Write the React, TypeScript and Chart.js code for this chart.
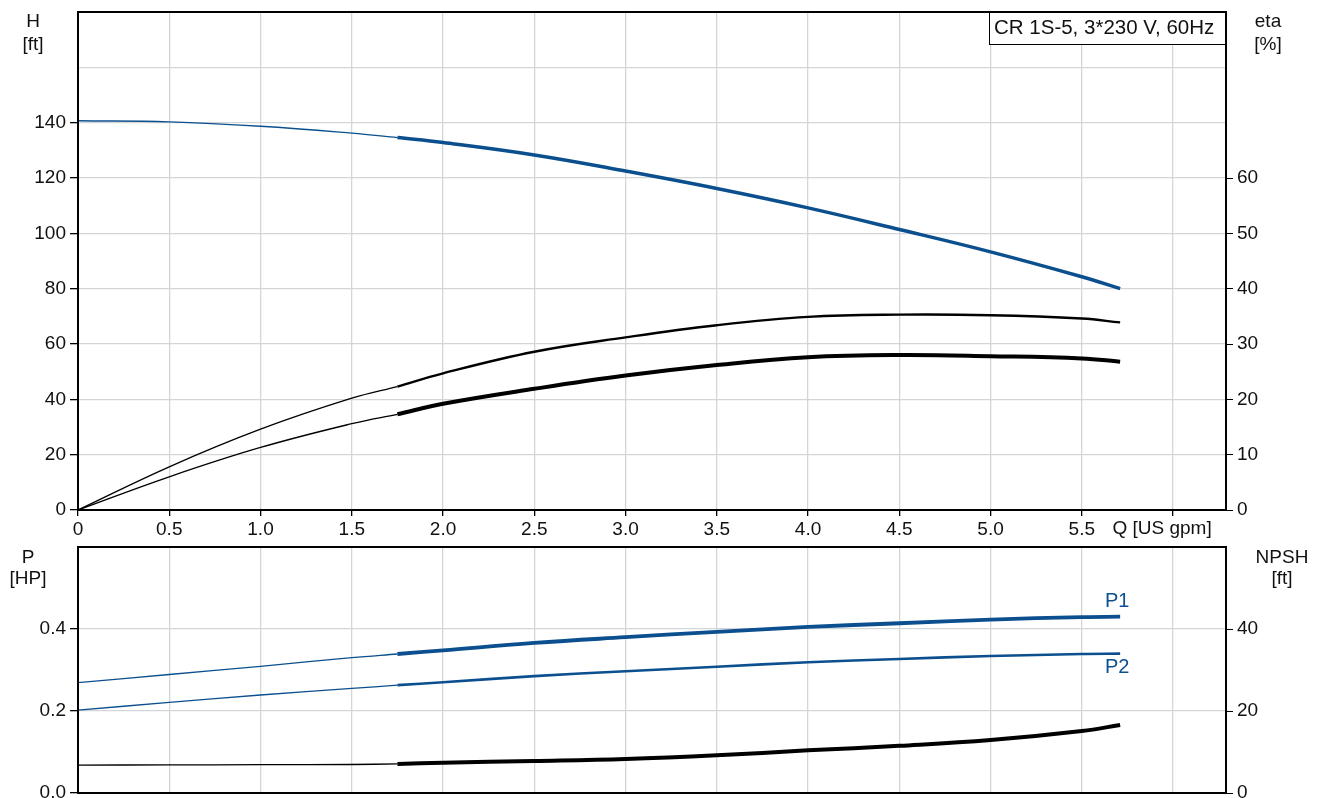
import { useEffect, useRef } from "react";
import { Chart, registerables } from "chart.js";

Chart.register(...registerables);

const FONT = "'Liberation Sans', Arial, sans-serif";
const BLUE = "#0b4f8e";
const GRID = "#d3d5d8";
const INK = "#111";

// flow axis
const qTicks = [0, 0.5, 1.0, 1.5, 2.0, 2.5, 3.0, 3.5, 4.0, 4.5, 5.0, 5.5, 6.0];
const qMax = 6.29;
const qUnit = "Q [US gpm]";

// flow points: thin part (outside range) and thick part (operating range)
const qLow = [0, 0.5, 1.0, 1.5, 1.75];
const qHigh = [1.75, 2.0, 2.5, 3.0, 3.5, 4.0, 4.5, 5.0, 5.5, 5.71];

// head [ft]
const headLow = [140.7, 140.3, 138.7, 136.2, 134.6];
const headHigh = [134.6, 132.8, 128.3, 122.5, 116.2, 109.2, 101.4, 93.3, 84.3, 80.0];
const headTicks = [0, 20, 40, 60, 80, 100, 120, 140, 160, 180];

// efficiency [%]
const etaLow = [0, 7.8, 14.6, 20.2, 22.3];
const etaHigh = [22.3, 24.7, 28.6, 31.2, 33.4, 34.9, 35.3, 35.2, 34.6, 33.9];
const etaTotLow = [0, 6.0, 11.3, 15.6, 17.3];
const etaTotHigh = [17.3, 19.2, 21.9, 24.3, 26.2, 27.6, 28.0, 27.8, 27.4, 26.8];
const etaTicks = [0, 10, 20, 30, 40, 50, 60];

// power [HP]
const p1Low = [0.269, 0.289, 0.309, 0.33, 0.339];
const p1High = [0.339, 0.348, 0.366, 0.38, 0.393, 0.405, 0.414, 0.423, 0.429, 0.43];
const p2Low = [0.202, 0.221, 0.239, 0.255, 0.263];
const p2High = [0.263, 0.27, 0.285, 0.297, 0.308, 0.319, 0.327, 0.334, 0.339, 0.34];
const powerTicks = [0, 0.2, 0.4, 0.6];

// NPSH [ft]
const npshLow = [6.8, 6.85, 6.9, 6.95, 7.1];
const npshHigh = [7.1, 7.4, 7.8, 8.3, 9.2, 10.4, 11.5, 12.9, 15.1, 16.6];
const npshTicks = [0, 20, 40];

const pumpLabel = "CR 1S-5, 3*230 V, 60Hz";

const pts = (xs: number[], ys: number[]) => xs.map((x, i) => ({ x, y: ys[i] }));

function line(xs: number[], ys: number[], color: string, width: number, axis: string) {
  return {
    data: pts(xs, ys),
    borderColor: color,
    borderWidth: width,
    pointRadius: 0,
    tension: 0.4,
    fill: false,
    yAxisID: axis,
  };
}

const tickFont = { family: FONT, size: 19 };

// keep chart area exactly where we want it
const noPad = (s: any) => {
  s.paddingTop = 0;
  s.paddingBottom = 0;
};

function xScale(showLabels: boolean) {
  return {
    type: "linear" as const,
    min: 0,
    max: qMax,
    afterBuildTicks: (s: any) => {
      s.ticks = qTicks.map((v) => ({ value: v }));
    },
    afterFit: (s: any) => {
      s.height = showLabels ? 35 : 22;
    },
    border: { color: "#000", width: 2 },
    grid: { color: GRID, lineWidth: 1.3, tickLength: 6, tickColor: "#000", drawTicks: showLabels },
    ticks: {
      display: showLabels,
      color: INK,
      font: tickFont,
      padding: 2,
      maxRotation: 0,
      autoSkip: false,
      callback: (v: any) => {
        const n = Number(v);
        if (n === 0) return "0";
        if (n === 6) return "";
        return n.toFixed(1);
      },
    },
  };
}

function drawText(ctx: CanvasRenderingContext2D, text: string, x: number, y: number, align: CanvasTextAlign = "center") {
  ctx.textAlign = align;
  ctx.textBaseline = "middle";
  ctx.fillText(text, x, y);
}

function frame(chart: any) {
  const { ctx, chartArea: a } = chart;
  ctx.strokeStyle = "#000";
  ctx.lineWidth = 2;
  ctx.strokeRect(a.left, a.top, a.right - a.left, a.bottom - a.top);
}

const topPlugin = {
  id: "topDecor",
  afterDraw(chart: any) {
    const { ctx, chartArea: a, scales } = chart;
    ctx.save();
    frame(chart);
    // pump label box
    const w = 237;
    const h = 32;
    ctx.fillStyle = "#fff";
    ctx.fillRect(a.right - w, a.top, w, h);
    ctx.lineWidth = 1;
    ctx.strokeRect(a.right - w + 0.5, a.top + 0.5, w - 1, h);
    ctx.fillStyle = INK;
    ctx.font = `20.5px ${FONT}`;
    drawText(ctx, pumpLabel, a.right - w + 5, a.top + 16, "left");
    ctx.font = `19px ${FONT}`;
    // axis titles
    drawText(ctx, "H", 33, 22);
    drawText(ctx, "[ft]", 33, 45);
    drawText(ctx, "eta", 1268, 22);
    drawText(ctx, "[%]", 1268, 45);
    // flow unit in place of the last tick label
    drawText(ctx, qUnit, scales.x.getPixelForValue(6) - 11, a.bottom + 19);
    ctx.restore();
  },
};

const bottomPlugin = {
  id: "bottomDecor",
  afterDraw(chart: any) {
    const { ctx, scales } = chart;
    ctx.save();
    frame(chart);
    ctx.fillStyle = INK;
    ctx.font = `19px ${FONT}`;
    drawText(ctx, "P", 28, 13);
    drawText(ctx, "[HP]", 28, 34);
    drawText(ctx, "NPSH", 1282, 13);
    drawText(ctx, "[ft]", 1282, 34);
    // curve names
    const xEnd = scales.x.getPixelForValue(qHigh[qHigh.length - 1]);
    const y1 = scales.y.getPixelForValue(p1High[p1High.length - 1]);
    const y2 = scales.y.getPixelForValue(p2High[p2High.length - 1]);
    ctx.fillStyle = BLUE;
    ctx.font = `20px ${FONT}`;
    drawText(ctx, "P1", xEnd - 3, y1 - 15);
    drawText(ctx, "P2", xEnd - 3, y2 + 14);
    ctx.restore();
  },
};

function TopChart() {
  const ref = useRef<HTMLCanvasElement | null>(null);
  useEffect(() => {
    if (!ref.current) return;
    const chart = new Chart(ref.current, {
      type: "line",
      data: {
        datasets: [
          line(qLow, headLow, BLUE, 1.3, "y"),
          line(qHigh, headHigh, BLUE, 3.5, "y"),
          line(qLow, etaLow, "#000", 1.3, "eta"),
          line(qHigh, etaHigh, "#000", 2.4, "eta"),
          line(qLow, etaTotLow, "#000", 1.3, "eta"),
          line(qHigh, etaTotHigh, "#000", 4, "eta"),
        ] as any,
      },
      options: {
        animation: false,
        responsive: true,
        maintainAspectRatio: false,
        layout: { padding: { top: 12, left: 0, right: 0, bottom: 0 } },
        plugins: { legend: { display: false }, tooltip: { enabled: false } },
        scales: {
          x: xScale(true),
          y: {
            type: "linear",
            position: "left",
            min: 0,
            max: 180,
            afterBuildTicks: (s: any) => {
              s.ticks = headTicks.map((v) => ({ value: v }));
            },
            afterFit: (s: any) => {
              s.width = 78;
              noPad(s);
            },
            border: { color: "#000", width: 2 },
            grid: {
              color: GRID,
              lineWidth: 1.3,
              tickLength: 8,
              tickColor: (c: any) => (c.tick && c.tick.value > 140 ? "rgba(0,0,0,0)" : "#000"),
            },
            ticks: {
              color: INK,
              font: tickFont,
              padding: 4,
              callback: (v: any) => (Number(v) > 140 ? "" : String(v)),
            },
          },
          eta: {
            type: "linear",
            position: "right",
            min: 0,
            max: 90,
            afterBuildTicks: (s: any) => {
              s.ticks = etaTicks.map((v) => ({ value: v }));
            },
            afterFit: (s: any) => {
              s.width = 99;
              noPad(s);
            },
            border: { color: "#000", width: 2 },
            grid: { drawOnChartArea: false, tickLength: 7, tickColor: "#000" },
            ticks: { color: INK, font: tickFont, padding: 4 },
          },
        },
      },
      plugins: [topPlugin],
    });
    return () => chart.destroy();
  }, []);
  return (
    <div style={{ position: "relative", width: 1325, height: 545 }}>
      <canvas ref={ref} />
    </div>
  );
}

function BottomChart() {
  const ref = useRef<HTMLCanvasElement | null>(null);
  useEffect(() => {
    if (!ref.current) return;
    const chart = new Chart(ref.current, {
      type: "line",
      data: {
        datasets: [
          line(qLow, p1Low, BLUE, 1.3, "y"),
          line(qHigh, p1High, BLUE, 3.8, "y"),
          line(qLow, p2Low, BLUE, 1.3, "y"),
          line(qHigh, p2High, BLUE, 2.6, "y"),
          line(qLow, npshLow, "#000", 1.3, "npsh"),
          line(qHigh, npshHigh, "#000", 4, "npsh"),
        ] as any,
      },
      options: {
        animation: false,
        responsive: true,
        maintainAspectRatio: false,
        layout: { padding: { top: 2, left: 0, right: 0, bottom: 0 } },
        plugins: { legend: { display: false }, tooltip: { enabled: false } },
        scales: {
          x: xScale(false),
          y: {
            type: "linear",
            position: "left",
            min: 0,
            max: 0.6,
            afterBuildTicks: (s: any) => {
              s.ticks = powerTicks.map((v) => ({ value: v }));
            },
            afterFit: (s: any) => {
              s.width = 78;
              noPad(s);
            },
            border: { color: "#000", width: 2 },
            grid: {
              color: GRID,
              lineWidth: 1.3,
              tickLength: 8,
              tickColor: (c: any) => (c.tick && c.tick.value > 0.45 ? "rgba(0,0,0,0)" : "#000"),
            },
            ticks: {
              color: INK,
              font: tickFont,
              padding: 4,
              callback: (v: any) => (Number(v) > 0.45 ? "" : Number(v).toFixed(1)),
            },
          },
          npsh: {
            type: "linear",
            position: "right",
            min: 0,
            max: 60,
            afterBuildTicks: (s: any) => {
              s.ticks = npshTicks.map((v) => ({ value: v }));
            },
            afterFit: (s: any) => {
              s.width = 99;
              noPad(s);
            },
            border: { color: "#000", width: 2 },
            grid: { drawOnChartArea: false, tickLength: 7, tickColor: "#000" },
            ticks: { color: INK, font: tickFont, padding: 4 },
          },
        },
      },
      plugins: [bottomPlugin],
    });
    return () => chart.destroy();
  }, []);
  return (
    <div style={{ position: "relative", width: 1325, height: 270 }}>
      <canvas ref={ref} />
    </div>
  );
}

export default function App() {
  return (
    <div
      style={{
        position: "absolute",
        left: 0,
        top: 0,
        width: 1325,
        height: 798,
        overflow: "hidden",
        background: "#fff",
      }}
    >
      <TopChart />
      <BottomChart />
    </div>
  );
}
